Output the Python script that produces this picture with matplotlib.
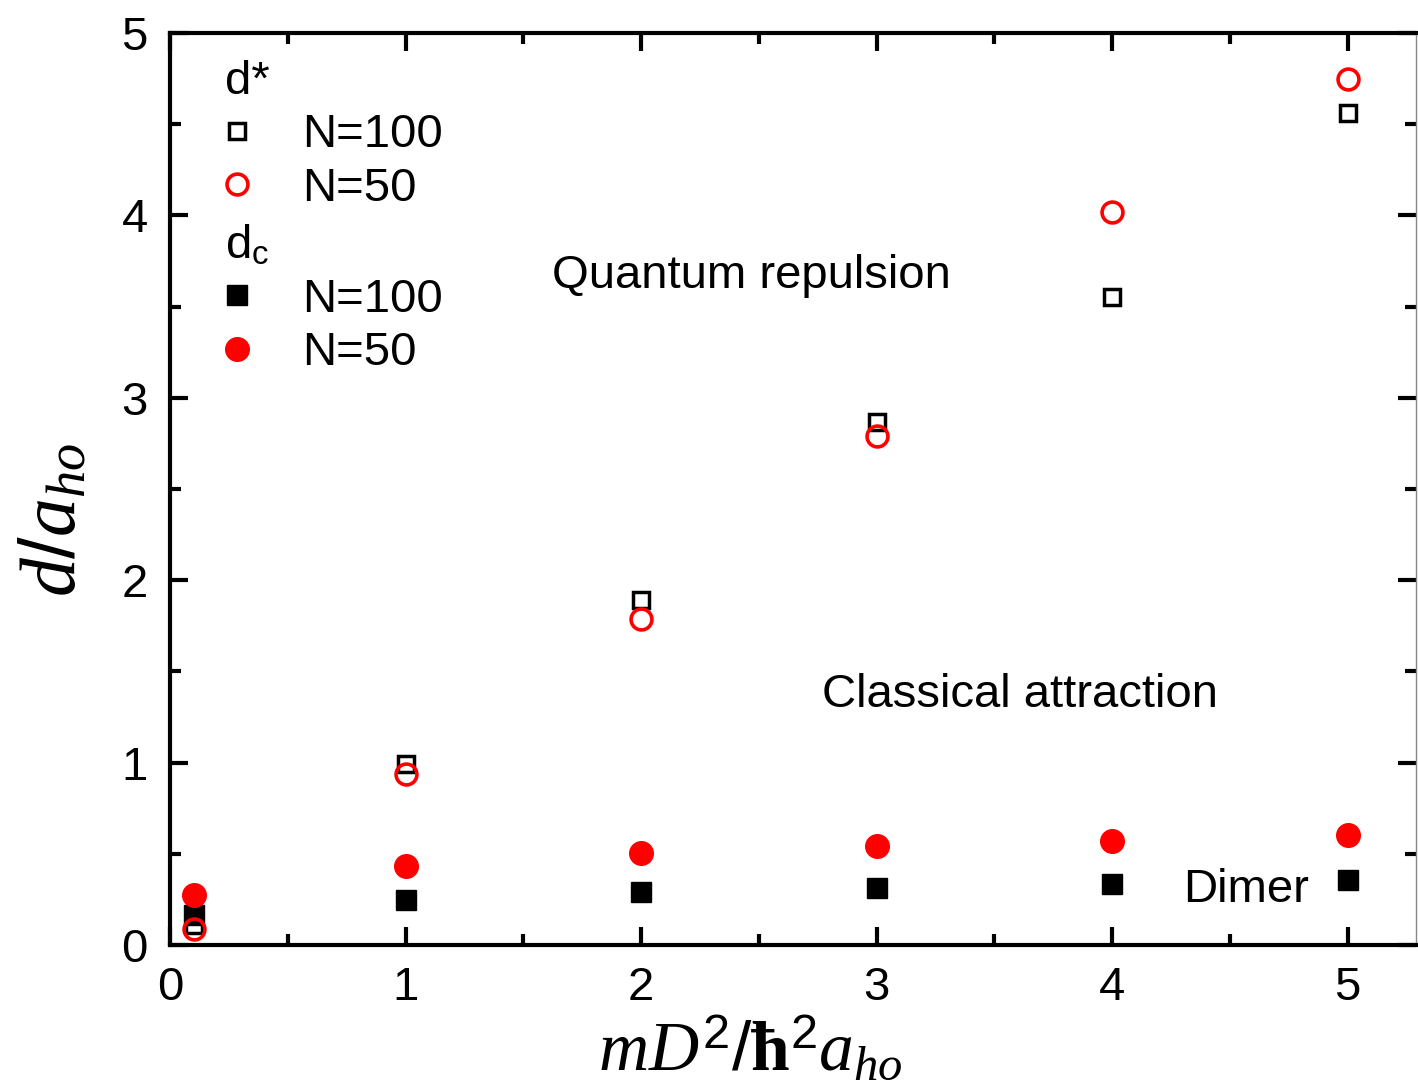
import numpy as np
import matplotlib
matplotlib.use("Agg")
import matplotlib.pyplot as plt
from matplotlib.lines import Line2D
from matplotlib.ticker import MultipleLocator

plt.rcParams['font.family'] = ['Liberation Sans', 'DejaVu Sans']
plt.rcParams['mathtext.fontset'] = 'custom'
plt.rcParams['mathtext.rm'] = 'Liberation Sans'
plt.rcParams['mathtext.it'] = 'Liberation Serif:italic'
plt.rcParams['mathtext.bf'] = 'Liberation Serif:bold'

# data
x = [0.1, 1, 2, 3, 4, 5]
dstar_n100 = [0.11, 0.99, 1.89, 2.87, 3.55, 4.56]
dstar_n50 = [0.09, 0.94, 1.79, 2.79, 4.02, 4.75]
dc_n100 = [0.165, 0.247, 0.29, 0.31, 0.334, 0.356]
dc_n50 = [0.274, 0.433, 0.504, 0.543, 0.57, 0.603]

fs = 34

fig = plt.figure(figsize=(14.18, 10.91), dpi=100)
ax = fig.add_axes([170/1418, 1-945/1091, 1246/1418, 912/1091])

ax.plot(x, dc_n100, 's', ms=14.5, color='black', mec='black', ls='none')
ax.plot(x, dc_n50, 'o', ms=17, color='red', mec='red', ls='none')
ax.plot(x, dstar_n100, 's', ms=12, mfc='none', mec='black', mew=2.5, ls='none')
ax.plot(x, dstar_n50, 'o', ms=15, mfc='none', mec='red', mew=2.6, ls='none')

ax.set_xlim(0, 5.29)
ax.set_ylim(0, 5)
ax.xaxis.set_major_locator(MultipleLocator(1))
ax.xaxis.set_minor_locator(MultipleLocator(0.5))
ax.yaxis.set_major_locator(MultipleLocator(1))
ax.yaxis.set_minor_locator(MultipleLocator(0.5))
ax.tick_params(which='both', direction='in', top=True, right=True, labelsize=fs, width=3)
ax.tick_params(which='major', length=13)
ax.tick_params(which='minor', length=8)
ax.tick_params(axis='x', pad=15)
ax.tick_params(axis='y', pad=16)
for s in ['left', 'bottom', 'top']:
    ax.spines[s].set_linewidth(3)
ax.spines['right'].set_linewidth(1)
ax.spines['right'].set_color('#888888')

ax.text(1.62, 3.67, 'Quantum repulsion', fontsize=fs, va='center')
ax.text(2.77, 1.37, 'Classical attraction', fontsize=fs, va='center')
ax.text(4.30, 0.30, 'Dimer', fontsize=fs, va='center')

h1 = [Line2D([], [], marker='s', ms=12, mfc='none', mec='black', mew=2.5, ls='none'),
      Line2D([], [], marker='o', ms=15, mfc='none', mec='red', mew=2.6, ls='none')]
h2 = [Line2D([], [], marker='s', ms=14.5, color='black', ls='none'),
      Line2D([], [], marker='o', ms=17, color='red', ls='none')]
common = dict(frameon=False, fontsize=fs, title_fontsize=fs, handlelength=0.5,
              handletextpad=1.13, labelspacing=0.2, borderpad=0, borderaxespad=0,
              alignment='left')
leg1 = ax.legend(h1, ['N=100', 'N=50'], title='d*', loc='upper left',
                 bbox_to_anchor=(55/1246, 1-27/912), **common)
ax.add_artist(leg1)
leg2 = ax.legend(h2, ['N=100', 'N=50'], title=r'd$_\mathrm{c}$', loc='upper left',
                 bbox_to_anchor=(55/1246, 1-191/912), **common)

fig.text(55/1418, 1-520/1091, r'$d/a_{ho}$', rotation=90, fontsize=56,
         ha='center', va='center')
fig.text(750/1418, 1-1050/1091, r'$mD^{2}/\mathbf{\hbar}^{2}a_{ho}$', fontsize=50,
         ha='center', va='center')

fig.savefig('out.png', dpi=100)
